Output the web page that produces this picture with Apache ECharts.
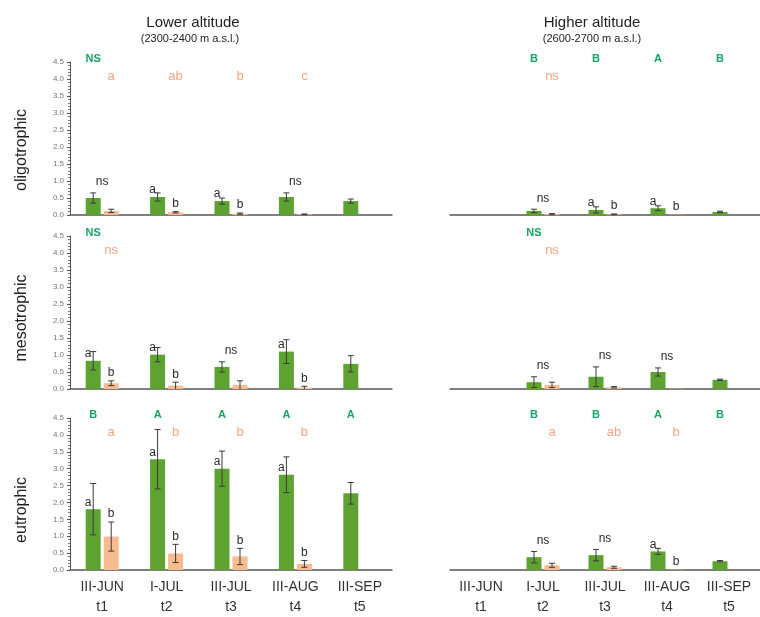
<!DOCTYPE html>
<html><head><meta charset="utf-8">
<script src="https://cdn.jsdelivr.net/npm/echarts@6/dist/echarts.min.js"></script>
<style>html,body{margin:0;padding:0;background:#fff}#c{width:760px;height:617px}</style>
</head><body><div id="c"></div>
<script>
// ---------- categories ----------
const months  = ['III-JUN','I-JUL','III-JUL','III-AUG','III-SEP'];
const periods = ['t1','t2','t3','t4','t5'];

// ---------- Lower altitude, oligotrophic ----------
const oligoLowG   = [0.50, 0.53, 0.41, 0.53, 0.41];
const oligoLowGE  = [0.15, 0.12, 0.09, 0.12, 0.06];
const oligoLowO   = [0.12, 0.08, 0.04, 0.02, null];
const oligoLowOE  = [0.05, 0.02, 0.02, 0.01, null];
const oligoLowGSig = ['', 'a', 'a', '', ''];
const oligoLowOSig = ['', 'b', 'b', '', ''];
const oligoLowNs   = ['ns', '', '', 'ns', ''];
const oligoLowGTop = ['NS', '', '', '', ''];
const oligoLowOTop = ['a', 'ab', 'b', 'c', ''];

// ---------- Lower altitude, mesotrophic ----------
const mesoLowG   = [0.83, 1.01, 0.65, 1.10, 0.74];
const mesoLowGE  = [0.27, 0.21, 0.15, 0.35, 0.24];
const mesoLowO   = [0.17, 0.10, 0.12, 0.04, null];
const mesoLowOE  = [0.07, 0.10, 0.12, 0.04, null];
const mesoLowGSig = ['a', 'a', '', 'a', ''];
const mesoLowOSig = ['b', 'b', '', 'b', ''];
const mesoLowNs   = ['', '', 'ns', '', ''];
const mesoLowGTop = ['NS', '', '', '', ''];
const mesoLowOTop = ['ns', '', '', '', ''];

// ---------- Lower altitude, eutrophic ----------
const euLowG   = [1.80, 3.28, 3.00, 2.82, 2.27];
const euLowGE  = [0.76, 0.88, 0.52, 0.53, 0.32];
const euLowO   = [0.99, 0.49, 0.40, 0.18, null];
const euLowOE  = [0.43, 0.27, 0.24, 0.10, null];
const euLowGSig = ['a', 'a', 'a', 'a', ''];
const euLowOSig = ['b', 'b', 'b', 'b', ''];
const euLowNs   = ['', '', '', '', ''];
const euLowGTop = ['B', 'A', 'A', 'A', 'A'];
const euLowOTop = ['a', 'b', 'b', 'b', ''];

// ---------- Higher altitude, oligotrophic ----------
const oligoHighG   = [null, 0.12, 0.15, 0.20, 0.09];
const oligoHighGE  = [null, 0.05, 0.09, 0.07, 0.02];
const oligoHighO   = [null, 0.03, 0.02, 0.01, null];
const oligoHighOE  = [null, 0.01, 0.01, 0.00, null];
const oligoHighGSig = ['', '', 'a', 'a', ''];
const oligoHighOSig = ['', '', 'b', 'b', ''];
const oligoHighNs   = ['', 'ns', '', '', ''];
const oligoHighGTop = ['', 'B', 'B', 'A', 'B'];
const oligoHighOTop = ['', 'ns', '', '', ''];

// ---------- Higher altitude, mesotrophic ----------
const mesoHighG   = [null, 0.20, 0.36, 0.50, 0.27];
const mesoHighGE  = [null, 0.16, 0.29, 0.12, 0.02];
const mesoHighO   = [null, 0.12, 0.05, 0.01, null];
const mesoHighOE  = [null, 0.08, 0.02, 0.00, null];
const mesoHighGSig = ['', '', '', '', ''];
const mesoHighOSig = ['', '', '', '', ''];
const mesoHighNs   = ['', 'ns', 'ns', 'ns', ''];
const mesoHighGTop = ['', 'NS', '', '', ''];
const mesoHighOTop = ['', 'ns', '', '', ''];

// ---------- Higher altitude, eutrophic ----------
const euHighG   = [null, 0.38, 0.44, 0.55, 0.26];
const euHighGE  = [null, 0.17, 0.17, 0.09, 0.02];
const euHighO   = [null, 0.14, 0.08, 0.01, null];
const euHighOE  = [null, 0.06, 0.03, 0.00, null];
const euHighGSig = ['', '', '', 'a', ''];
const euHighOSig = ['', '', '', 'b', ''];
const euHighNs   = ['', 'ns', 'ns', '', ''];
const euHighGTop = ['', 'B', 'B', 'A', 'B'];
const euHighOTop = ['', 'a', 'ab', 'b', ''];

// ---------- layout ----------
const FONT = 'Liberation Sans, Arial, Helvetica, sans-serif';
const colLeft = [70, 450], colWidth = [322, 310];
const rowTop = [62, 236, 418], rowHeight = [153, 153, 155];
const GREEN = '#5ea332', ORANGE = '#f6bc90';
const OFF = 9;

const panels = [
  {col:0,row:0,g:oligoLowG,ge:oligoLowGE,o:oligoLowO,oe:oligoLowOE,gs:oligoLowGSig,os:oligoLowOSig,ns:oligoLowNs,gt:oligoLowGTop,ot:oligoLowOTop},
  {col:0,row:1,g:mesoLowG,ge:mesoLowGE,o:mesoLowO,oe:mesoLowOE,gs:mesoLowGSig,os:mesoLowOSig,ns:mesoLowNs,gt:mesoLowGTop,ot:mesoLowOTop},
  {col:0,row:2,g:euLowG,ge:euLowGE,o:euLowO,oe:euLowOE,gs:euLowGSig,os:euLowOSig,ns:euLowNs,gt:euLowGTop,ot:euLowOTop},
  {col:1,row:0,g:oligoHighG,ge:oligoHighGE,o:oligoHighO,oe:oligoHighOE,gs:oligoHighGSig,os:oligoHighOSig,ns:oligoHighNs,gt:oligoHighGTop,ot:oligoHighOTop},
  {col:1,row:1,g:mesoHighG,ge:mesoHighGE,o:mesoHighO,oe:mesoHighOE,gs:mesoHighGSig,os:mesoHighOSig,ns:mesoHighNs,gt:mesoHighGTop,ot:mesoHighOTop},
  {col:1,row:2,g:euHighG,ge:euHighGE,o:euHighO,oe:euHighOE,gs:euHighGSig,os:euHighOSig,ns:euHighNs,gt:euHighGTop,ot:euHighOTop}
];

const grid = [], xAxis = [], yAxis = [], series = [];
panels.forEach((p, i) => {
  grid.push({left: colLeft[p.col], top: rowTop[p.row], width: colWidth[p.col], height: rowHeight[p.row]});
  const bottom = p.row === 2;
  xAxis.push({
    type:'category', gridIndex:i, data: months,
    axisLine:{show:true, lineStyle:{color:'#555', width:1.5}},
    axisTick:{show:false},
    axisLabel:{show:bottom, interval:0, fontFamily:FONT, fontSize:14, color:'#333', lineHeight:20, margin:7,
      formatter:(v, idx) => v + '\n' + periods[idx]}
  });
  const left = p.col === 0;
  yAxis.push({
    type:'value', gridIndex:i, min:0, max:4.5, interval:0.5, show:left,
    axisLine:{show:true, lineStyle:{color:'#555', width:1}},
    axisTick:{show:true, length:3, lineStyle:{color:'#555'}},
    minorTick:{show:true, splitNumber:5, length:2, lineStyle:{color:'#777'}},
    splitLine:{show:false},
    axisLabel:{fontFamily:FONT, fontSize:8, color:'#777', margin:6, formatter:v => v.toFixed(1)}
  });
  series.push({type:'bar', xAxisIndex:i, yAxisIndex:i, data:p.g, barWidth:15, barGap:'20%',
    itemStyle:{color:GREEN}, z:2});
  series.push({type:'bar', xAxisIndex:i, yAxisIndex:i, data:p.o, barWidth:15, barGap:'20%',
    itemStyle:{color:ORANGE}, z:2});

  // error bars
  const errData = [];
  for (let k = 0; k < 5; k++) {
    if (p.g[k] != null && p.ge[k] > 0) errData.push([k, p.g[k], p.ge[k], -1]);
    if (p.o[k] != null && p.oe[k] > 0) errData.push([k, p.o[k], p.oe[k], 1]);
  }
  series.push({type:'custom', xAxisIndex:i, yAxisIndex:i, z:4, clip:false, data:errData,
    encode:{x:0, y:1},
    renderItem:(params, api) => {
      const c = api.value(0), m = api.value(1), e = api.value(2), s = api.value(3);
      const pt = api.coord([c, m + e]);
      const lowV = Math.max(0, m - e);
      const pb = api.coord([c, lowV]);
      const x = pt[0] + s * OFF, cap = 3;
      const st = {stroke:'#3a3a3a', lineWidth:1};
      const ch = [
        {type:'line', shape:{x1:x, y1:pt[1], x2:x, y2:pb[1]}, style:st},
        {type:'line', shape:{x1:x-cap, y1:pt[1], x2:x+cap, y2:pt[1]}, style:st}
      ];
      if (lowV > 0) ch.push({type:'line', shape:{x1:x-cap, y1:pb[1], x2:x+cap, y2:pb[1]}, style:st});
      return {type:'group', children:ch};
    }
  });

  // letters
  const items = [];
  for (let k = 0; k < 5; k++) {
    if (p.gt[k]) items.push({c:k, v:4.6, t:p.gt[k], dx:-OFF, dy:0, kind:'gTop'});
    if (p.ot[k]) items.push({c:k, v:4.08, t:p.ot[k], dx:OFF, dy:0, kind:'oTop'});
    if (p.ns[k]) {
      const top = Math.max((p.g[k]||0) + (p.ge[k]||0), (p.o[k]||0) + (p.oe[k]||0));
      items.push({c:k, v:top, t:p.ns[k], dx:0, dy:-11, kind:'sig'});
    }
    if (p.gs[k]) items.push({c:k, v:p.g[k], t:p.gs[k], dx:-OFF-5, dy:-7, kind:'sig'});
    if (p.os[k]) items.push({c:k, v:p.o[k] + p.oe[k], t:p.os[k], dx:OFF, dy:-8, kind:'sig'});
  }
  series.push({type:'custom', xAxisIndex:i, yAxisIndex:i, z:5, clip:false, silent:true,
    data: items.map(d => [d.c, d.v]), encode:{x:0, y:1},
    renderItem:(params, api) => {
      const d = items[params.dataIndex];
      const pt = api.coord([d.c, d.v]);
      let fill = '#2b2b2b', font = '12px ' + FONT;
      if (d.kind === 'gTop') { fill = '#16a663'; font = 'bold 11px ' + FONT; }
      if (d.kind === 'oTop') { fill = '#f3a583'; font = '13px ' + FONT; }
      return {type:'text', x: pt[0] + d.dx, y: pt[1] + d.dy,
        style:{text:d.t, fill:fill, font:font, align:'center', verticalAlign:'middle'}};
    }
  });
});

const graphic = [
  {type:'text', x:193, y:23, style:{text:'Lower altitude', font:'15px ' + FONT, fill:'#222', align:'center', verticalAlign:'middle'}},
  {type:'text', x:190, y:39, style:{text:'(2300-2400 m a.s.l.)', font:'11px ' + FONT, fill:'#222', align:'center', verticalAlign:'middle'}},
  {type:'text', x:592, y:23, style:{text:'Higher altitude', font:'15px ' + FONT, fill:'#222', align:'center', verticalAlign:'middle'}},
  {type:'text', x:592, y:39, style:{text:'(2600-2700 m a.s.l.)', font:'11px ' + FONT, fill:'#222', align:'center', verticalAlign:'middle'}},
  {type:'text', x:22, y:150, rotation:Math.PI/2, style:{text:'oligotrophic', font:'16px ' + FONT, fill:'#222', align:'center', verticalAlign:'middle'}},
  {type:'text', x:22, y:318, rotation:Math.PI/2, style:{text:'mesotrophic', font:'16px ' + FONT, fill:'#222', align:'center', verticalAlign:'middle'}},
  {type:'text', x:22, y:510, rotation:Math.PI/2, style:{text:'eutrophic', font:'16px ' + FONT, fill:'#222', align:'center', verticalAlign:'middle'}}
];

const chart = echarts.init(document.getElementById('c'), null, {renderer:'canvas'});
chart.setOption({animation:false, backgroundColor:'#fff', grid, xAxis, yAxis, series, graphic});
</script></body></html>
